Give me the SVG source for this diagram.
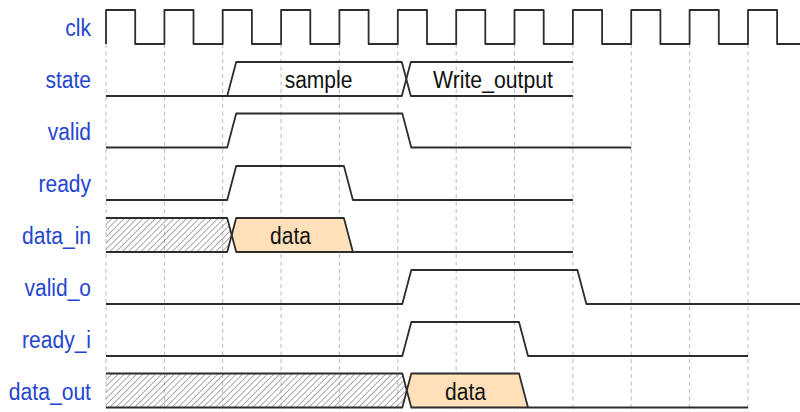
<svg xmlns="http://www.w3.org/2000/svg" width="800" height="412" viewBox="0 0 800 412">
  <defs>
    <pattern id="hatch" width="4.4" height="4.4" patternUnits="userSpaceOnUse" patternTransform="rotate(45)">
      <line x1="0" y1="0" x2="0" y2="4.4" stroke="#7a7a7a" stroke-width="1.3"/>
    </pattern>
    <style>
      .bg { fill: #ffffff; }
      .grid { stroke: #b8b8b8; stroke-width: 1; stroke-dasharray: 4 3.5; fill: none; }
      .wave { fill: none; stroke: #2d2d2d; stroke-width: 1.8; stroke-linejoin: round; }
      .label { font-family: "Liberation Sans", Arial, sans-serif; font-size: 23.5px; fill: #2446cf; text-anchor: end; }
      .val { font-family: "Liberation Sans", Arial, sans-serif; font-size: 23.5px; fill: #111111; text-anchor: middle; }
      .x { fill: url(#hatch); stroke: none; }
      .d { fill: #ffe0b9; stroke: none; }
    </style>
  </defs>

  <rect class="bg" x="0" y="0" width="800" height="412"/>

  <!-- cycle grid: one dashed line per clock rising edge -->
  <g id="grid">
    <line class="grid" x1="106" y1="44" x2="106" y2="412"/>
    <line class="grid" x1="164.4" y1="44" x2="164.4" y2="412"/>
    <line class="grid" x1="222.7" y1="44" x2="222.7" y2="412"/>
    <line class="grid" x1="281.1" y1="44" x2="281.1" y2="412"/>
    <line class="grid" x1="339.4" y1="44" x2="339.4" y2="412"/>
    <line class="grid" x1="397.8" y1="44" x2="397.8" y2="412"/>
    <line class="grid" x1="456.2" y1="44" x2="456.2" y2="412"/>
    <line class="grid" x1="514.5" y1="44" x2="514.5" y2="412"/>
    <line class="grid" x1="572.9" y1="44" x2="572.9" y2="412"/>
    <line class="grid" x1="631.2" y1="44" x2="631.2" y2="412"/>
    <line class="grid" x1="689.6" y1="44" x2="689.6" y2="412"/>
    <line class="grid" x1="748" y1="44" x2="748" y2="412"/>
  </g>

  <!-- signal names -->
  <g id="labels">
    <text class="label" x="91" y="36" textLength="25.7" lengthAdjust="spacingAndGlyphs">clk</text>
    <text class="label" x="91" y="88" textLength="45.5" lengthAdjust="spacingAndGlyphs">state</text>
    <text class="label" x="91" y="140" textLength="43.2" lengthAdjust="spacingAndGlyphs">valid</text>
    <text class="label" x="91" y="192" textLength="52.5" lengthAdjust="spacingAndGlyphs">ready</text>
    <text class="label" x="91" y="244" textLength="68.9" lengthAdjust="spacingAndGlyphs">data_in</text>
    <text class="label" x="91" y="296" textLength="66.5" lengthAdjust="spacingAndGlyphs">valid_o</text>
    <text class="label" x="91" y="348" textLength="68.9" lengthAdjust="spacingAndGlyphs">ready_i</text>
    <text class="label" x="91" y="400" textLength="82.2" lengthAdjust="spacingAndGlyphs">data_out</text>
  </g>

  <g id="clk">
    <path class="wave" d="M106,44 V10 H135.2 V44 H164.4 V10 H193.5 V44 H222.7 V10 H251.9 V44 H281.1 V10 H310.3 V44 H339.4 V10 H368.6 V44 H397.8 V10 H427 V44 H456.2 V10 H485.3 V44 H514.5 V10 H543.7 V44 H572.9 V10 H602.1 V44 H631.2 V10 H660.4 V44 H689.6 V10 H718.8 V44 H748 V10 H777.1 V44 H801"/>
  </g>

  <g id="state">
    <path class="wave" d="M106,96 H401.8 L410.8,62 H572.9"/>
    <path class="wave" d="M227.2,96 L236.2,62 H401.8 L410.8,96 H572.9"/>
    <text class="val" x="318.5" y="88" textLength="67.7" lengthAdjust="spacingAndGlyphs">sample</text>
    <text class="val" x="493" y="88" textLength="120" lengthAdjust="spacingAndGlyphs">Write_output</text>
  </g>

  <g id="valid">
    <path class="wave" d="M106,147.5 H227.2 L236.2,113.5 H402.3 L411.3,147.5 H631.2"/>
  </g>

  <g id="ready">
    <path class="wave" d="M106,200 H227.2 L236.2,166 H343.9 L352.9,200 H572.9"/>
  </g>

  <g id="data_in">
    <polygon class="x" points="106,218 227.2,218 231.7,235 227.2,252 106,252"/>
    <polygon class="d" points="236.2,218 343.9,218 352.9,252 236.2,252 231.7,235"/>
    <path class="wave" d="M106,218 H227.2 L236.2,252 H572.9"/>
    <path class="wave" d="M106,252 H227.2 L236.2,218 H343.9 L352.9,252"/>
    <text class="val" x="290.5" y="244" textLength="40.9" lengthAdjust="spacingAndGlyphs">data</text>
  </g>

  <g id="valid_o">
    <path class="wave" d="M106,304 H402.3 L411.3,270 H577.4 L586.4,304 H801"/>
  </g>

  <g id="ready_i">
    <path class="wave" d="M106,356 H402.3 L411.3,322 H519 L528,356 H748"/>
  </g>

  <g id="data_out">
    <polygon class="x" points="106,373.5 402.3,373.5 406.8,390.5 402.3,407.5 106,407.5"/>
    <polygon class="d" points="411.3,373.5 519,373.5 528,407.5 411.3,407.5 406.8,390.5"/>
    <path class="wave" d="M106,373.5 H402.3 L411.3,407.5 H748"/>
    <path class="wave" d="M106,407.5 H402.3 L411.3,373.5 H519 L528,407.5"/>
    <text class="val" x="465.5" y="400" textLength="40.9" lengthAdjust="spacingAndGlyphs">data</text>
  </g>
</svg>
